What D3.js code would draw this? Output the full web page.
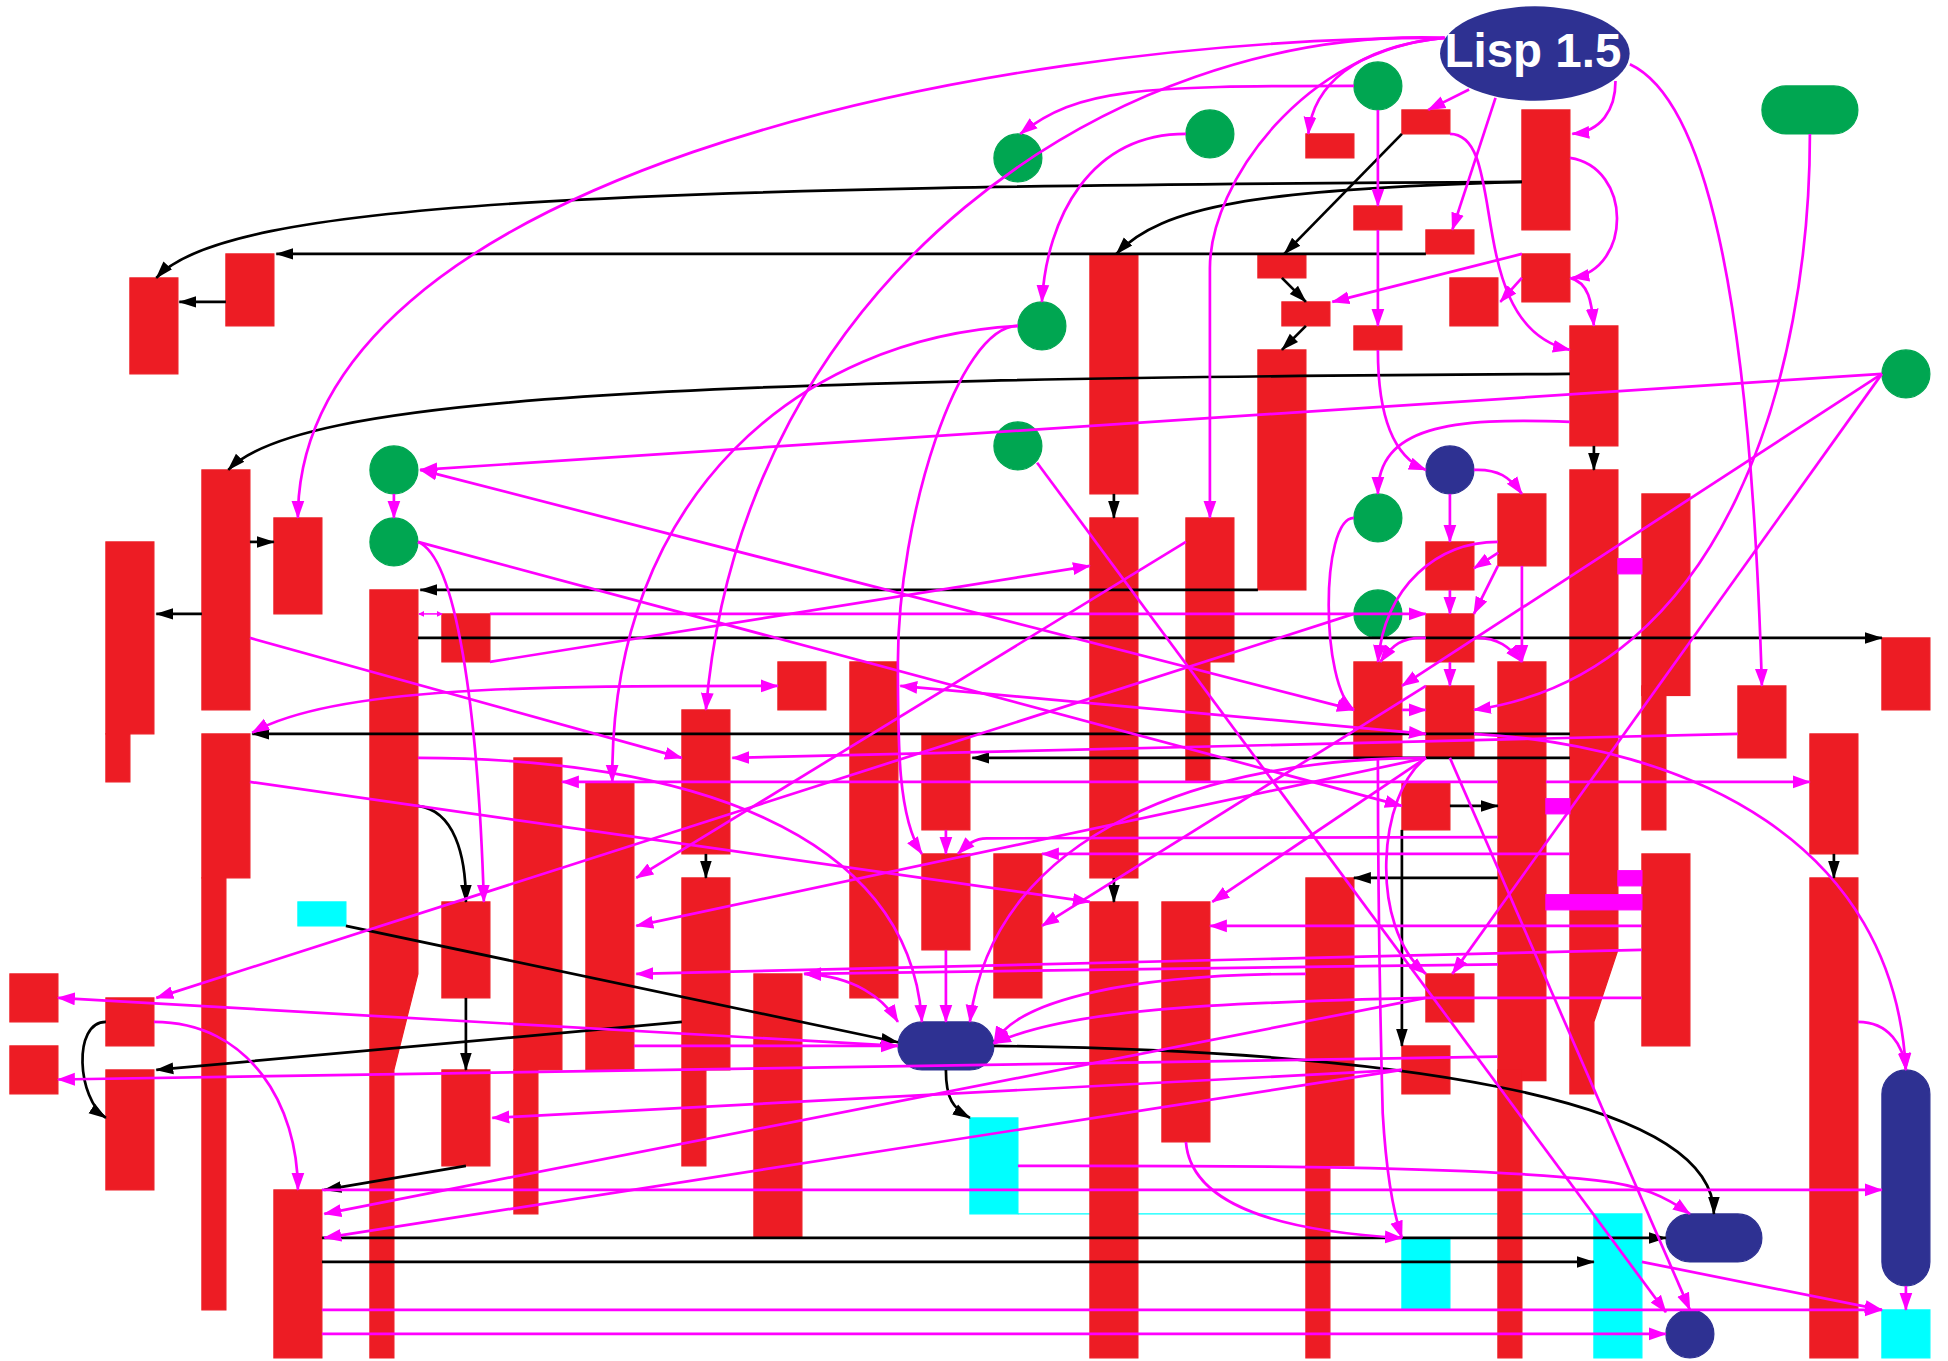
<!DOCTYPE html>
<html>
<head>
<meta charset="utf-8">
<script src="https://cdn.jsdelivr.net/npm/d3@7"></script>
<style>
  html, body { margin: 0; background: #fff; }
  svg { display: block; }
</style>
</head>
<body>
<svg id="chart"></svg>
<script>
// layout is a grid, nodes are [col, row, colSpan, rowSpan]
const redNodes = [
  [58,0,2,1],[54,1,2,1],[63,0,2,5],[56,4,2,1],[59,5,2,1],[52,6,2,1],[63,6,2,2],[60,7,2,2],
  [53,8,2,1],[56,9,2,1],[65,9,2,5],[52,10,2,10],[45,6,2,10],[45,17,2,15],[45,33,2,19],
  [49,17,2,6],[49,23,1,5],[9,6,2,3],[5,7,2,4],[8,15,2,10],[11,17,2,4],[4,18,2,8],[4,26,1,2],
  [18,21,2,2],[59,18,2,2],[62,16,2,3],[59,21,2,2],[56,23,2,4],[59,24,2,3],[62,23,2,17.45],
  [62,40,1,12],[68,16,2,8.4],[68,24,1,6],[68,31,2,8],[32,23,2,2],[35,23,2,14],[38,26,2,4],
  [38,31,2,4],[41,31,2,6],[28,25,2,6],[28,32,2,8],[28,40,1,4],[31,36,2,11],[21,27,2,13],
  [21,40,1,6],[24,28,2,12],[8,26,2,6],[8,32,1,18],[11,45,2,7],[18,33,2,4],[18,40,2,4],
  [4,37,2,2],[4,40,2,5],[0,36,2,2],[0,39,2,2],[58,28,2,2],[54,32,2,12],[54,44,1,8],
  [48,33,2,10],[59,36,2,2],[58,39,2,2],[72,24,2,3],[75,26,2,5],[75,32,2,20],[78,22,2,3]
];
const redShapes = [
  [[15,20],[17,20],[17,36],[16,40],[16,52],[15,52]],
  [[65,15],[67,15],[67,35],[66,38],[66,41],[65,41]]
];
const cyanNodes = [[12,33,2,1],[40,42,2,4],[58,47,2,3],[66,46,2,6],[78,50,2,2]];
const blueNodes = [[37,38,4,2],[69,46,4,2],[78,40,2,9],[59,14,2,2],[69,50,2,2]];
const greenNodes = [[73,-1,4,2],[56,-2,2,2],[49,0,2,2],[41,1,2,2],[42,8,2,2],[78,10,2,2],
  [41,13,2,2],[15,14,2,2],[15,17,2,2],[56,16,2,2],[56,20,2,2]];
const thickBars = [[67,18.7,1,0.63],[64,28.7,1,0.63],[67,31.7,1,0.63],[64,32.7,4,0.63]];
const cyanLine = [[42,46],[66,46]];

const rootNode = { label: "Lisp 1.5", col: 63.54, row: -2.35, rx: 3.95, ry: 1.97 };

// edges: two points is a straight line, otherwise start point + bezier triples
const blackEdges = [
  [[58,1],[53.1,6]],
  [[63,3],[52,3.3],[48,4],[46.1,6]],
  [[63,3],[25,3.2],[9,3.8],[6.1,7]],
  [[59,6],[11.1,6]],
  [[9,8],[7.06,8]],
  [[53,7],[54,8]],
  [[54,9],[53,10]],
  [[65,11],[27,11.2],[12,12],[9.1,15]],
  [[46,16],[46,17]],
  [[66,14],[66,15]],
  [[17,22],[78,22]],
  [[52,20],[17.1,20]],
  [[10,18],[11,18]],
  [[8,21],[6.1,21]],
  [[65,26],[10.1,26]],
  [[65,27],[40.1,27]],
  [[17,29],[18.5,29.2],[19,31],[19,33]],
  [[19,37],[19,40]],
  [[14,34],[37,38.85]],
  [[28,38],[6.1,40]],
  [[4,38],[2.6,38],[2.8,41.2],[4,42]],
  [[19,44],[13.1,45]],
  [[13,47],[69,47]],
  [[13,48],[66,48]],
  [[29,31],[29,32]],
  [[46,32],[46,33]],
  [[60,29],[62,29]],
  [[62,32],[56,32]],
  [[58,30],[58,39]],
  [[41,39],[57,39.2],[71,41],[71,46]],
  [[39,40],[39,41.2],[39.3,41.6],[40,42]],
  [[76,31],[76,32]]
];

const magentaEdges = [
  [[59.8,-3],[40,-3],[12,3],[12,17]],
  [[59.8,-3],[46,-3.5],[30.5,7],[29,25]],
  [[59.75,-3],[54,-2.5],[50,3],[50,6.6],[50,10],[50,14],[50,17]],
  [[59.75,-3],[56,-2.6],[54.3,-1],[54.1,1]],
  [[56,-1],[47,-1],[44.5,-0.9],[42.1,1]],
  [[60.8,-0.85],[59.1,0]],
  [[57,0],[57,4]],
  [[57,5],[57,9]],
  [[61.9,-0.5],[60.1,5]],
  [[66.9,-1.2],[66.9,0],[66.3,0.9],[65.1,1]],
  [[67.5,-1.9],[70.5,-0.5],[72.5,7],[73,24]],
  [[65,2],[67.6,2.4],[67.6,6.6],[65.1,7]],
  [[65,7],[65.8,7.2],[65.9,8],[66,9]],
  [[60,1],[62.5,1],[60.5,9],[65,10]],
  [[63,6],[55.1,8]],
  [[63,7],[62.1,8]],
  [[78,11],[17.1,15]],
  [[57,10],[57,12.5],[57.5,14.4],[59,15]],
  [[65,13],[60,12.8],[57,13.2],[57,16]],
  [[61,15],[62,14.95],[62.5,15.3],[63,16]],
  [[60,16],[60,18]],
  [[60,20],[60,21]],
  [[60,23],[60,24]],
  [[62.02,18.45],[61,19.1]],
  [[62,19],[61,21]],
  [[63,19],[63,23]],
  [[62,18],[59.5,18],[57.3,19.8],[57,23]],
  [[59,22],[58,21.95],[57.6,22.3],[57.1,23]],
  [[61,22],[62,21.95],[62.5,22.4],[63,23]],
  [[56,21],[6.1,37]],
  [[20,21],[59,21]],
  [[20,23],[45,19]],
  [[16,16],[16,17]],
  [[17,18],[58,29]],
  [[17,18],[18.6,18.6],[19.5,25],[19.75,33]],
  [[42.8,14.7],[69,50.1]],
  [[60,27],[70,50]],
  [[56,17],[54.6,17],[54.6,24],[56,25]],
  [[58,25],[59,25]],
  [[75,1],[75,11],[71.5,23.5],[61,25]],
  [[78,11],[58,24]],
  [[78,11],[60.1,36]],
  [[59,24],[43,34]],
  [[65,31],[43,31]],
  [[62,30.3],[50,30.3],[41.5,30.3],[40.7,30.35],[40.2,30.35],[39.9,30.6],[39.5,31]],
  [[39,30],[39,31]],
  [[39,35],[39,38]],
  [[42,9],[39.5,9],[37,17],[37,23],[37,26.5],[37,29.5],[38,31]],
  [[42,9],[33,9.5],[25,16],[25.1,28]],
  [[49,1],[45,1],[43.2,4.5],[43,8]],
  [[49,18],[26.1,32]],
  [[59,27],[26.1,34]],
  [[59,27],[50,27],[41,30],[40,38]],
  [[59,27],[50.1,33]],
  [[57,27],[57,33],[57.1,38],[57.2,41.8],[57.3,43.5],[57.5,45.5],[58,47]],
  [[59,27],[57,28.5],[56.6,34],[59,36]],
  [[72,26],[30.1,27]],
  [[10,22],[28,27]],
  [[10,28],[45,33]],
  [[17,27],[28,27],[37.5,30],[38,38]],
  [[26,39],[37,39]],
  [[37,39],[2,37]],
  [[62,39.45],[2,40.4]],
  [[59,37],[13.1,46]],
  [[58,40],[13.1,47]],
  [[58,40],[20.1,42]],
  [[13,45],[78,45]],
  [[13,50],[78,50]],
  [[13,51],[69,51]],
  [[68,48],[78,50]],
  [[42,44],[50,44],[60,43.95],[66.1,44.6],[68,44.8],[69,45.3],[70,46]],
  [[49,43],[49.2,45.5],[52.5,46.7],[58,47]],
  [[79,49],[79,50]],
  [[77,38],[78.3,38],[78.9,39],[79,40]],
  [[61,26],[70,26.5],[78.5,30.5],[79,40]],
  [[6,38],[10,38],[12,41.5],[12,45]],
  [[62,28],[23,28]],
  [[64,28],[75,28]],
  [[68,34],[50,34]],
  [[68,35],[26.1,36]],
  [[62,35.6],[33.1,36]],
  [[54,36],[47,36],[42,37],[41,38.9]],
  [[68,37],[65,37],[62,37],[59,37],[50,37.2],[44,37.5],[41,38.9]]
];

// edges with a head at both ends
const twoWayEdges = [
  [[37.1,24],[59,26]],
  [[17.1,15],[56,25]],
  [[33.1,36],[35.2,36.1],[36.4,37],[37,38]],
  [[32,24],[22,24],[13.5,24],[10.1,25.95]]
];
const tinyEdges = [[[17.05,21],[18,21]]];

const width = 1948, height = 1361;
const colors = { red: "#ed1c24", blue: "#2e3192", green: "#00a651", cyan: "#00ffff", magenta: "#ff00ff" };

const x = d3.scaleLinear().domain([0, 78]).range([9.9, 9.9 + 24 * 78]);
const y = d3.scaleLinear().domain([0, 52]).range([109.9, 109.9 + 24 * 52]);
const unit = x(1) - x(0);

const svg = d3.select("#chart").attr("width", width).attr("height", height);

// arrow heads
const defs = svg.append("defs");
function addHead(id, color, len, half) {
  defs.append("marker").attr("id", id)
      .attr("markerUnits", "userSpaceOnUse")
      .attr("markerWidth", len + 2).attr("markerHeight", half * 2 + 2)
      .attr("viewBox", `0 ${-half - 1} ${len + 2} ${half * 2 + 2}`)
      .attr("refX", len - 1).attr("refY", 0)
      .attr("orient", "auto-start-reverse")
    .append("path")
      .attr("d", `M0,${-half}L${len},0L0,${half}Z`)
      .attr("fill", color);
}
addHead("head-black", "#000", 18, 5.8);
addHead("head-magenta", colors.magenta, 18, 6.4);
addHead("head-tiny", colors.magenta, 6, 3);

function edgePath(points) {
  const p = d3.path();
  p.moveTo(x(points[0][0]), y(points[0][1]));
  if (points.length === 2) {
    p.lineTo(x(points[1][0]), y(points[1][1]));
    return p.toString();
  }
  for (let i = 1; i + 2 < points.length; i += 3) {
    p.bezierCurveTo(x(points[i][0]), y(points[i][1]),
                    x(points[i + 1][0]), y(points[i + 1][1]),
                    x(points[i + 2][0]), y(points[i + 2][1]));
  }
  return p.toString();
}

svg.append("path").attr("d", edgePath(cyanLine))
    .attr("fill", "none").attr("stroke", colors.cyan).attr("stroke-width", 1.2);

function drawNodes(data, color, round) {
  svg.append("g").selectAll("rect").data(data).enter().append("rect")
      .attr("x", d => x(d[0]))
      .attr("y", d => y(d[1]))
      .attr("width", d => x(d[0] + d[2]) - x(d[0]))
      .attr("height", d => y(d[1] + d[3]) - y(d[1]))
      .attr("rx", d => round ? Math.min(d[2], d[3]) * unit / 2 : 0)
      .attr("fill", color)
      .attr("stroke", color)
      .attr("stroke-width", 1.2);
}
drawNodes(redNodes, colors.red, false);
svg.append("g").selectAll("path").data(redShapes).enter().append("path")
    .attr("d", d3.line().x(d => x(d[0])).y(d => y(d[1])).curve(d3.curveLinearClosed))
    .attr("fill", colors.red)
    .attr("stroke", colors.red)
    .attr("stroke-width", 1.2);
drawNodes(cyanNodes, colors.cyan, false);
drawNodes(blueNodes, colors.blue, true);
drawNodes(greenNodes, colors.green, true);
drawNodes(thickBars, colors.magenta, false);

function drawEdges(data, color, head, bothEnds, strokeWidth) {
  svg.append("g").selectAll("path").data(data).enter().append("path")
      .attr("d", edgePath)
      .attr("fill", "none")
      .attr("stroke", color)
      .attr("stroke-width", strokeWidth)
      .attr("marker-end", `url(#${head})`)
      .attr("marker-start", bothEnds ? `url(#${head})` : null);
}
drawEdges(blackEdges, "#000", "head-black", false, 2.7);
drawEdges(magentaEdges, colors.magenta, "head-magenta", false, 2.7);
drawEdges(twoWayEdges, colors.magenta, "head-magenta", true, 2.7);
drawEdges(tinyEdges, colors.magenta, "head-tiny", true, 1.5);

// the root ellipse sits on top of the edges leaving it
svg.append("ellipse")
    .attr("cx", x(rootNode.col)).attr("cy", y(rootNode.row))
    .attr("rx", rootNode.rx * unit).attr("ry", rootNode.ry * unit)
    .attr("fill", colors.blue);
svg.append("text")
    .attr("x", x(rootNode.col) - 2).attr("y", y(rootNode.row) + 13.5)
    .attr("text-anchor", "middle")
    .attr("font-family", "'Liberation Sans', Arial, sans-serif")
    .attr("font-weight", "bold")
    .attr("font-size", 47.5)
    .attr("fill", "#fff")
    .text(rootNode.label);
</script>
</body>
</html>
